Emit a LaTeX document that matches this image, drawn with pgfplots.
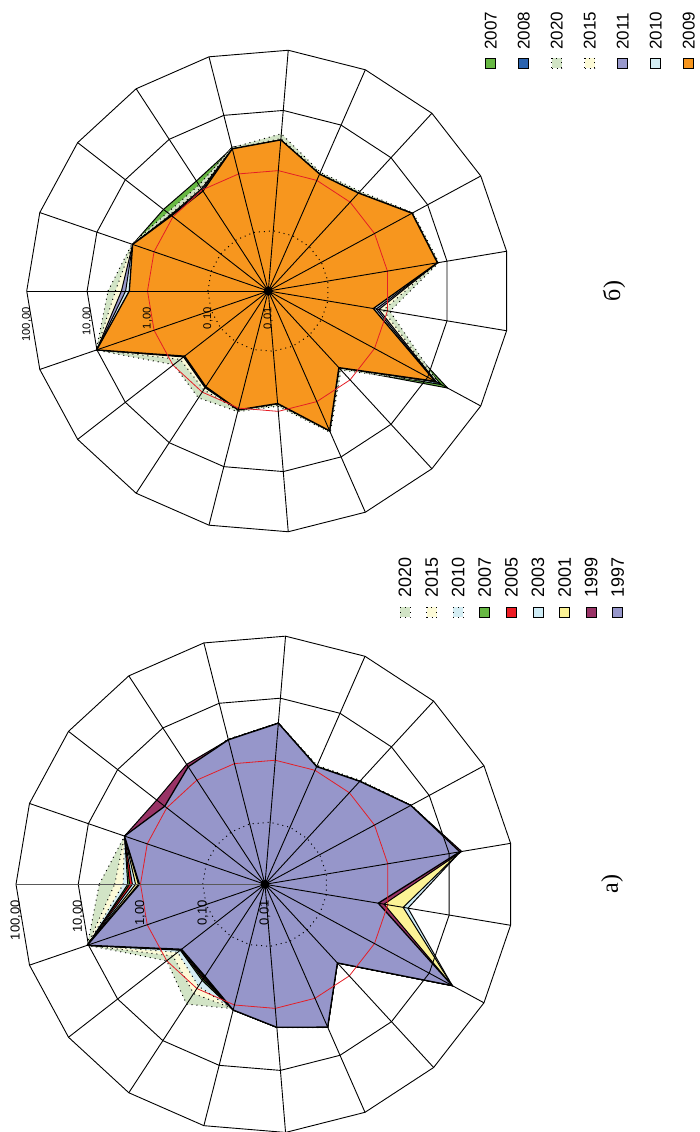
\documentclass[border=0pt]{standalone}
\usepackage{fontspec}
\setmainfont{Liberation Sans}
\newfontfamily\serifcyr{Liberation Serif}
\usepackage{pgfplots}
\usepgfplotslibrary{polar}
\usepackage{pgfplotstable}
\pgfplotsset{compat=1.18}

\definecolor{c1997}{RGB}{150,150,202}
\definecolor{c1999}{RGB}{153,51,102}
\definecolor{c2001}{RGB}{252,243,150}
\definecolor{c2003}{RGB}{206,236,246}
\definecolor{c2005}{RGB}{237,28,36}
\definecolor{c2007}{RGB}{103,184,67}
\definecolor{c2008}{RGB}{43,99,174}
\definecolor{c2009}{RGB}{247,150,30}
\definecolor{c2010}{RGB}{212,237,243}
\definecolor{c2011}{RGB}{153,153,204}
\definecolor{c2015}{RGB}{252,250,215}
\definecolor{c2020}{RGB}{210,228,198}
\definecolor{redring}{RGB}{228,30,38}

% chart a) values, categories 1..19 (row 20 closes the polygon)
\pgfplotstableread{
k  a2020 a2015 a2010 a2007 a2005 a2003 a2001 a1999 a1997
1  4.6   2.6   1.9   1.6   1.5   1.35  1.2   1.08  1.04
2  2.43  2.43  2.43  2.43  2.43  2.43  2.43  2.43  2.43
3  1.15  1.1   1.1   1.1   1.1   1.1   1.1   1.6   1.1
4  1.8   1.8   1.8   1.8   1.8   1.8   1.8   2.0   1.8
5  2.55  2.5   2.48  2.48  2.48  2.48  2.48  2.48  2.48
6  4.0   3.95  3.95  3.95  3.95  3.95  3.95  3.95  3.95
7  1.22  1.18  1.16  1.16  1.16  1.16  1.16  1.16  1.16
8  1.85  1.8   1.77  1.77  1.77  1.77  1.77  1.77  1.77
9  4.7   4.65  4.6   4.6   4.6   4.6   4.6   4.6   4.6
10 15.2  15.2  15.2  15.2  15.2  15.2  15.2  16.0  14.9
11 1.9   1.9   1.95  0.8   0.8   2.13  1.78  0.87  0.70
12 26.3  26.3  26.3  26.3  26.3  26.3  26.3  26.3  26.3
13 0.53  0.52  0.52  0.52  0.52  0.52  0.52  0.52  0.52
14 3.25  3.2   3.2   3.2   3.2   3.2   3.2   3.2   3.2
15 2.05  2.02  2.02  2.02  2.02  2.02  2.02  2.02  2.02
16 1.15  1.15  1.2   1.21  1.21  1.21  1.21  1.21  1.21
17 2.0   1.25  0.9   0.7   0.66  0.63  0.61  0.59  0.58
18 1.0   0.75  0.6   0.53  0.52  0.51  0.5   0.5   0.5
19 10.4  10.4  10.4  10.4  10.4  10.4  10.4  10.4  10.4
20 4.6   2.6   1.9   1.6   1.5   1.35  1.2   1.08  1.04
}\dataA

% chart b) values
\pgfplotstableread{
k  b2007 b2008 b2020 b2015 b2011 b2010 b2009
1  2.0   2.0   4.5   3.4   2.7   2.3   2.0
2  2.37  2.37  2.45  2.4   2.37  2.37  2.37
3  1.58  1.15  1.3   1.15  1.12  1.1   1.07
4  1.5   1.2   1.25  1.1   1.05  1.0   0.95
5  2.75  2.85  2.8   2.7   2.68  2.68  2.68
6  3.3   3.35  4.1   3.4   3.24  3.24  3.24
7  1.3   1.3   1.4   1.35  1.3   1.3   1.3
8  1.6   1.6   1.75  1.65  1.6   1.6   1.6
9  5.1   5.1   5.3   5.15  5.07  5.07  5.07
10 6.9   6.9   7.3   7.0   6.9   6.9   6.9
11 0.58  0.58  1.1   0.85  0.72  0.65  0.58
12 23.7  18.0  16.0  15.0  14.5  14.0  13.8
13 0.53  0.53  0.6   0.56  0.54  0.53  0.53
14 3.37  3.37  3.6   3.45  3.37  3.37  3.37
15 0.74  0.74  0.82  0.78  0.75  0.74  0.74
16 1.07  1.07  1.15  1.1   1.08  1.07  1.07
17 0.78  0.78  1.3   0.9   0.82  0.8   0.78
18 0.57  0.57  0.97  0.7   0.6   0.58  0.57
19 10.1  10.1  10.3  10.2  10.1  10.1  10.1
20 2.0   2.0   4.5   3.4   2.7   2.3   2.0
}\dataB

\pgfplotsset{
  radar/.style={scale only axis, hide axis, clip=false, no markers,
    ymin=0, ymax=4, xmin=0, xmax=360,
    x filter/.expression={180-(x-1)*360/19},
    y filter/.expression={ln(y)/ln(10)+2}},
  ser/.style={draw=black, line width=0.5pt, fill=#1, line join=miter},
  serd/.style={draw=black, line width=0.5pt, dotted, fill=#1},
}

\begin{document}
\begin{tikzpicture}
\useasboundingbox (0,0) rectangle (350pt,566pt);

% ---------------- chart a) ----------------
\begin{polaraxis}[radar, at={(132.5pt,123.85pt)}, anchor=center,
  width=249pt, height=249pt]
\addplot[serd=c2020] table[x=k,y=a2020] {\dataA};
\addplot[serd=c2015] table[x=k,y=a2015] {\dataA};
\addplot[serd=c2010] table[x=k,y=a2010] {\dataA};
\addplot[ser=c2007] table[x=k,y=a2007] {\dataA};
\addplot[ser=c2005] table[x=k,y=a2005] {\dataA};
\addplot[ser=c2003] table[x=k,y=a2003] {\dataA};
\addplot[ser=c2001] table[x=k,y=a2001] {\dataA};
\addplot[ser=c1999] table[x=k,y=a1999] {\dataA};
\addplot[ser=c1997, line width=0.65pt] table[x=k,y=a1997] {\dataA};
\addplot[redring, line width=0.4pt] table[x=k,y expr=1] {\dataA};
\addplot[black, dotted, line width=0.5pt] table[x=k,y expr=0.1] {\dataA};
\addplot[black, line width=0.45pt] table[x=k,y expr=10] {\dataA};
\addplot[black, line width=0.45pt] table[x=k,y expr=100] {\dataA};
\pgfplotsinvokeforeach{2,...,19}{
  \addplot[black, line width=0.45pt] coordinates {(#1,0.01) (#1,100)};
}
\addplot[black!65, line width=0.8pt] coordinates {(1,0.01) (1,100)};
\addplot[only marks, mark=*, mark size=2pt, black] coordinates {(1,0.01)};
\end{polaraxis}

\begin{scope}[font=\fontsize{6.5pt}{7pt}\selectfont]
\node[rotate=90, anchor=east, inner sep=0] at (132.5pt,116pt) {0,01};
\node[rotate=90, anchor=east, inner sep=0] at (101.4pt,116pt) {0,10};
\node[rotate=90, anchor=east, inner sep=0] at (70.25pt,116pt) {1,00};
\node[rotate=90, anchor=east, inner sep=0] at (39.1pt,116pt) {10,00};
\node[rotate=90, anchor=east, inner sep=0] at (8pt,116pt) {100,00};
\end{scope}

\foreach \lab/\sty [count=\i from 0] in {2020/dotted,2015/dotted,2010/dotted,2007/solid,2005/solid,2003/solid,2001/solid,1999/solid,1997/solid}{
  \pgfmathsetmacro{\xx}{202.5+13.3*\i}
  \node[draw=black, \sty, line width=0.45pt, fill=c\lab, minimum size=5pt, inner sep=0] at (\xx pt,259.75pt) {};
  \node[rotate=90, anchor=west, inner sep=0, font=\fontsize{9pt}{10pt}\selectfont] at (\xx pt,267pt) {\lab};
}
\node[rotate=90, font=\serifcyr\fontsize{12pt}{13pt}\selectfont] at (306pt,124pt) {а)};

% ---------------- chart b) ----------------
\begin{polaraxis}[radar, at={(134.15pt,420.5pt)}, anchor=center,
  width=241.6pt, height=241.6pt]
\addplot[ser=c2007] table[x=k,y=b2007] {\dataB};
\addplot[ser=c2008] table[x=k,y=b2008] {\dataB};
\addplot[serd=c2020] table[x=k,y=b2020] {\dataB};
\addplot[serd=c2015] table[x=k,y=b2015] {\dataB};
\addplot[ser=c2011] table[x=k,y=b2011] {\dataB};
\addplot[ser=c2010] table[x=k,y=b2010] {\dataB};
\addplot[ser=c2009, line width=0.65pt] table[x=k,y=b2009] {\dataB};
\addplot[redring, line width=0.4pt] table[x=k,y expr=1] {\dataB};
\addplot[black, dotted, line width=0.5pt] table[x=k,y expr=0.1] {\dataB};
\addplot[black, line width=0.45pt] table[x=k,y expr=10] {\dataB};
\addplot[black, line width=0.45pt] table[x=k,y expr=100] {\dataB};
\pgfplotsinvokeforeach{1,...,19}{
  \addplot[black, line width=0.45pt] coordinates {(#1,0.01) (#1,100)};
}
\addplot[only marks, mark=*, mark size=2pt, black] coordinates {(1,0.01)};
\end{polaraxis}

\begin{scope}[font=\fontsize{5.6pt}{6pt}\selectfont]
\node[rotate=90, anchor=east, inner sep=0] at (134.15pt,412.5pt) {0,01};
\node[rotate=90, anchor=east, inner sep=0] at (103.95pt,412.5pt) {0,10};
\node[rotate=90, anchor=east, inner sep=0] at (73.75pt,412.5pt) {1,00};
\node[rotate=90, anchor=east, inner sep=0] at (43.55pt,412.5pt) {10,00};
\node[rotate=90, anchor=east, inner sep=0] at (13.35pt,412.5pt) {100,00};
\end{scope}

\foreach \lab/\sty [count=\i from 0] in {2007/solid,2008/solid,2020/dotted,2015/dotted,2011/solid,2010/solid,2009/solid}{
  \pgfmathsetmacro{\xx}{245.35+16.5*\i}
  \node[draw=black, \sty, line width=0.45pt, fill=c\lab, minimum size=5pt, inner sep=0] at (\xx pt,534.5pt) {};
  \node[rotate=90, anchor=west, inner sep=0, font=\fontsize{8.5pt}{9pt}\selectfont] at (\xx pt,541pt) {\lab};
}
\node[rotate=90, font=\serifcyr\fontsize{12pt}{13pt}\selectfont] at (307pt,420.5pt) {б)};
\end{tikzpicture}
\end{document}
